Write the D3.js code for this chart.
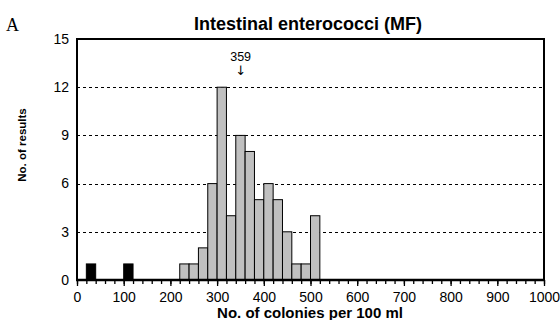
<!DOCTYPE html>
<html><head><meta charset="utf-8">
<script src="https://cdn.jsdelivr.net/npm/d3@7"></script>
<style>body{margin:0;background:#fff}svg{display:block}</style>
</head><body><svg id="c" width="560" height="320"></svg>
<script>
const binStarts = [20,100,220,240,260,280,300,320,340,360,380,400,420,440,460,480,500];
const counts    = [1,1,1,1,2,6,12,4,9,8,5,6,5,3,1,1,4];
const outlier   = [true,true,false,false,false,false,false,false,false,false,false,false,false,false,false,false,false];
const binWidth = 20;
const yTicks = [0,3,6,9,12,15];
const xTicks = [0,100,200,300,400,500,600,700,800,900,1000];
const medianValue = 359;
const title = "Intestinal enterococci (MF)";
const xTitle = "No. of colonies per 100 ml";
const yTitle = "No. of results";

const svg = d3.select("#c");
const m = {l:77, r:16, t:39, b:40};
const W = 560, H = 320;
const x = d3.scaleLinear().domain([0,1000]).range([m.l, W-m.r]);
const y = d3.scaleLinear().domain([0,15]).range([H-m.b, m.t]);
const font = "Liberation Sans, Arial, sans-serif";

// gridlines
svg.append("g").selectAll("line").data(yTicks.filter(d=>d>0&&d<15)).join("line")
  .attr("x1", x(0)).attr("x2", x(1000)).attr("y1", d=>Math.round(y(d))+0.5).attr("y2", d=>Math.round(y(d))+0.5)
  .attr("stroke","#000").attr("stroke-width",1).attr("stroke-dasharray","3,3");

// bars
const data = binStarts.map((s,i)=>({s, c:counts[i], o:outlier[i]}));
svg.append("g").selectAll("rect").data(data).join("rect")
  .attr("x", d=>x(d.s)).attr("width", d=>x(d.s+binWidth)-x(d.s))
  .attr("y", d=>y(d.c)).attr("height", d=>y(0)-y(d.c))
  .attr("fill", d=>d.o?"#000":"#c0c0c0").attr("stroke","#000").attr("stroke-width",1);

// frame
svg.append("rect").attr("x", x(0)).attr("y", y(15)).attr("width", x(1000)-x(0)).attr("height", y(0)-y(15))
  .attr("fill","none").attr("stroke","#000").attr("stroke-width",2);
svg.append("line").attr("x1", x(0)-1).attr("x2", x(1000)+1).attr("y1", y(0)).attr("y2", y(0))
  .attr("stroke","#000").attr("stroke-width",2.5);

// x axis with minor ticks
const xa = svg.append("g").attr("transform",`translate(0,${y(0)})`);
xa.call(d3.axisBottom(x).tickValues(d3.range(0,1001,20)).tickSize(4).tickFormat(""))
  .call(g=>g.select(".domain").remove())
  .call(g=>g.selectAll("line").attr("stroke-width",1.3));
xa.append("g").call(d3.axisBottom(x).tickValues(xTicks).tickSize(6).tickFormat(d3.format("d")))
  .call(g=>g.select(".domain").remove())
  .call(g=>g.selectAll("line").attr("stroke-width",1.3))
  .call(g=>g.selectAll("text").attr("font-family",font).attr("font-size",14).attr("fill","#000")
     .attr("y",22).attr("dy",0));

// y axis labels
const ya = svg.append("g").attr("transform",`translate(${x(0)},0)`);
ya.call(d3.axisLeft(y).tickValues(yTicks).tickSize(0).tickPadding(8))
  .call(g=>g.select(".domain").remove())
  .call(g=>g.selectAll("text").attr("font-family",font).attr("font-size",14).attr("fill","#000").attr("dy","0.3em"));

// titles
svg.append("text").attr("x", 308).attr("y", 30).attr("text-anchor","middle")
  .attr("font-family",font).attr("font-weight","bold").attr("font-size",18).text(title);
svg.append("text").attr("x", 310).attr("y", 318).attr("text-anchor","middle")
  .attr("font-family",font).attr("font-weight","bold").attr("font-size",15).text(xTitle);
svg.append("text").attr("transform","translate(26,145) rotate(-90)").attr("text-anchor","middle")
  .attr("font-family",font).attr("font-weight","bold").attr("font-size",11.5).text(yTitle);
svg.append("text").attr("x", 6).attr("y", 31)
  .attr("font-family","Liberation Serif, Times New Roman, serif").attr("font-size",18).text("A");

// annotation
svg.append("text").attr("x", x(medianValue)-4).attr("y", 61).attr("text-anchor","middle")
  .attr("font-family",font).attr("font-size",12.5).text(String(medianValue));
svg.append("text").attr("x", x(medianValue)-4).attr("y", 75).attr("text-anchor","middle")
  .attr("font-family","DejaVu Sans, sans-serif").attr("font-size",13).text("↓");
</script></body></html>
